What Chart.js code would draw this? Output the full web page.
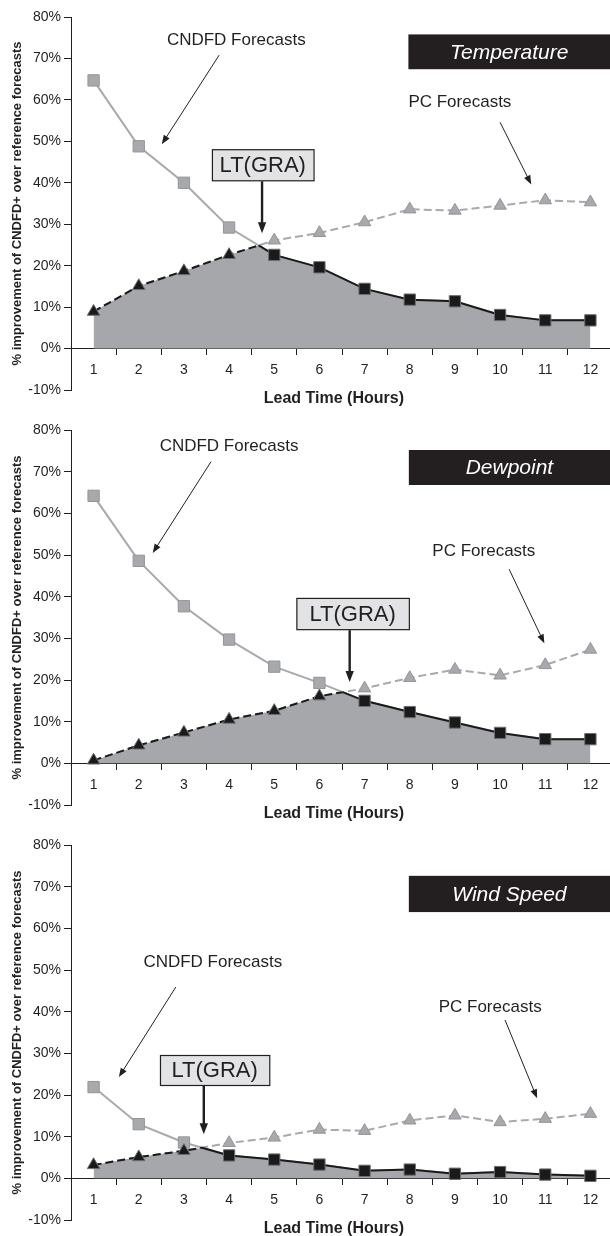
<!DOCTYPE html>
<html>
<head>
<meta charset="utf-8">
<script src="https://cdn.jsdelivr.net/npm/chart.js@4.4.1/dist/chart.umd.min.js"></script>
<style>
html,body{margin:0;padding:0;background:#fff;overflow:hidden;width:610px;height:1236px}
.panel{position:absolute;left:0;width:622px;height:413px}
</style>
</head>
<body>
<div class="panel" style="top:0"><canvas id="c1"></canvas></div>
<div class="panel" style="top:413px"><canvas id="c2"></canvas></div>
<div class="panel" style="top:828px"><canvas id="c3"></canvas></div>
<script>
// lead time in hours
const leadTimes=[1,2,3,4,5,6,7,8,9,10,11,12]
const yTicks=[-10,0,10,20,30,40,50,60,70,80]

// % improvement over reference forecasts
const tempCNDFD=[64.7,48.8,40.0,29.2,22.6,19.6,14.4,11.8,11.4,8.1,6.8,6.8]
const tempPC=[8.9,15.1,18.7,22.6,26.1,27.9,30.5,33.6,33.3,34.5,35.8,35.3]

const dewCNDFD=[64.2,48.6,37.7,29.7,23.2,19.3,15.0,12.3,9.8,7.3,5.8,5.8]
const dewPC=[0.7,4.3,7.4,10.5,12.6,16.1,18.0,20.5,22.5,21.1,23.6,27.3]

const windCNDFD=[21.9,13.0,8.6,5.5,4.5,3.3,1.8,2.1,1.1,1.5,0.9,0.6]
const windPC=[3.2,5.1,6.6,8.5,9.8,11.7,11.4,13.9,15.1,13.5,14.3,15.5]

const panelTitles=["Temperature","Dewpoint","Wind Speed"]
const xTitle="Lead Time (Hours)"

const FONT="'Liberation Sans', Arial, sans-serif"
Chart.defaults.font.family=FONT
Chart.defaults.color="#231f20"

// lower of the two curves, with the crossing point added
function envelope(a,b){
let pts=[]
for(let i=0;i<leadTimes.length;i++){
pts.push({x:leadTimes[i],y:Math.min(a[i],b[i]),pc:b[i]<a[i]})
if(i<leadTimes.length-1){
let d0=a[i]-b[i], d1=a[i+1]-b[i+1]
if(d0*d1<0){
let t=d0/(d0-d1)
pts.push({x:leadTimes[i]+t,y:b[i]+t*(b[i+1]-b[i]),pc:d1>0})
}
}
}
return pts
}

function arrow(ctx,x0,y0,x1,y1,w,head){
let a=Math.atan2(y1-y0,x1-x0)
ctx.lineWidth=w
ctx.beginPath()
ctx.moveTo(x0,y0)
ctx.lineTo(x1-Math.cos(a)*head*0.7,y1-Math.sin(a)*head*0.7)
ctx.stroke()
let hw=head*0.38
ctx.beginPath()
ctx.moveTo(x1,y1)
ctx.lineTo(x1-head*Math.cos(a)+hw*Math.sin(a),y1-head*Math.sin(a)-hw*Math.cos(a))
ctx.lineTo(x1-head*Math.cos(a)-hw*Math.sin(a),y1-head*Math.sin(a)+hw*Math.cos(a))
ctx.closePath()
ctx.fill()
}

const notesPlugin={
id:"notes",
afterDatasetsDraw(chart,args,o){
const ctx=chart.ctx
const X=v=>chart.scales.x.getPixelForValue(v)
const Y=v=>chart.scales.y.getPixelForValue(v)
ctx.save()

// panel title box
let bx=X(o.box[0]),bt=Y(o.box[1]),bb=Y(o.box[2])
ctx.fillStyle="#231f20"
ctx.fillRect(bx,bt,chart.width-bx,bb-bt)
ctx.fillStyle="#fff"
ctx.font="italic 21px "+FONT
ctx.textAlign="center"
ctx.textBaseline="middle"
ctx.fillText(o.title,(bx+610)/2,(bt+bb)/2+1)

// labels + thin arrows
ctx.fillStyle="#231f20"
ctx.strokeStyle="#231f20"
ctx.font="17px "+FONT
ctx.fillText("CNDFD Forecasts",X(o.cText[0]),Y(o.cText[1]))
ctx.fillText("PC Forecasts",X(o.pText[0]),Y(o.pText[1]))
arrow(ctx,X(o.cArrow[0]),Y(o.cArrow[1]),X(o.cArrow[2]),Y(o.cArrow[3]),1,9)
arrow(ctx,X(o.pArrow[0]),Y(o.pArrow[1]),X(o.pArrow[2]),Y(o.pArrow[3]),1,9)

// LT(GRA) box and thick arrow
let lx0=X(o.lt[0]),lx1=X(o.lt[1]),ly0=Y(o.lt[2]),ly1=Y(o.lt[3])
ctx.fillStyle="#e2e3e4"
ctx.fillRect(lx0,ly0,lx1-lx0,ly1-ly0)
ctx.lineWidth=1.2
ctx.strokeStyle="#231f20"
ctx.strokeRect(lx0+0.5,ly0+0.5,lx1-lx0,ly1-ly0)
ctx.fillStyle="#231f20"
ctx.font="22px "+FONT
ctx.fillText("LT(GRA)",(lx0+lx1)/2,(ly0+ly1)/2+1)
arrow(ctx,X(o.ltArrow[0]),ly1+1,X(o.ltArrow[0]),Y(o.ltArrow[1]),2.4,11)

// x axis title, a little left of the plot centre as in the original
ctx.font="bold 16px "+FONT
ctx.fillText(xTitle,X(6.32),Y(0)+50)

ctx.restore()
}
}

function makeChart(id,cndfd,pc,notes,padBottom){

let env=envelope(cndfd,pc)
let lowColor=(a,b)=>c=>a[c.dataIndex]<b[c.dataIndex]?"#1a1a1a":"#a7a9ac"
let edgeColor=(a,b)=>c=>a[c.dataIndex]<b[c.dataIndex]?"#6d6e71":"#939598"

new Chart(document.getElementById(id),{
type:"line",
data:{
datasets:[
{
data:leadTimes.map((x,i)=>({x,y:pc[i]})),
showLine:false,
pointStyle:"triangle",
pointRadius:7.2,
pointBorderWidth:1,
pointBackgroundColor:lowColor(pc,cndfd),
pointBorderColor:edgeColor(pc,cndfd),
order:0
},
{
data:leadTimes.map((x,i)=>({x,y:cndfd[i]})),
showLine:false,
pointStyle:"rect",
pointRadius:8,
pointBorderWidth:1,
pointBackgroundColor:lowColor(cndfd,pc),
pointBorderColor:edgeColor(cndfd,pc),
order:1
},
{
data:env,
borderColor:"#1a1a1a",
borderWidth:2,
pointRadius:0,
fill:false,
borderDash:[],
segment:{borderDash:c=>env[c.p0DataIndex].pc?[8,4]:[]},
order:2
},
{
data:leadTimes.map((x,i)=>({x,y:pc[i]})),
borderColor:"#a7a9ac",
borderWidth:2,
borderDash:[8,4],
pointRadius:0,
order:3
},
{
data:leadTimes.map((x,i)=>({x,y:cndfd[i]})),
borderColor:"#a7a9ac",
borderWidth:2,
pointRadius:0,
order:4
},
{
data:env,
borderWidth:0,
pointRadius:0,
fill:"origin",
backgroundColor:"#a5a7aa",
order:5
}
]
},
options:{
responsive:true,
maintainAspectRatio:false,
animation:false,
events:[],
layout:{padding:{top:17,bottom:padBottom,left:0,right:0}},
plugins:{legend:{display:false},tooltip:{enabled:false},notes:notes},
scales:{
x:{
type:"linear",
position:{y:0},
min:0.5,
max:12.5,
border:{color:"#231f20",width:1},
grid:{drawOnChartArea:false,tickLength:6,tickColor:c=>Number.isInteger(c.tick.value)?"rgba(0,0,0,0)":"#231f20"},
ticks:{stepSize:0.5,autoSkip:false,maxRotation:0,padding:7,font:{size:14},color:"#231f20",
callback:v=>Number.isInteger(v)&&leadTimes.includes(v)?String(v):""}
},
y:{
min:yTicks[0],
max:yTicks[yTicks.length-1],
border:{color:"#231f20",width:1},
grid:{drawOnChartArea:false,tickLength:7,color:"#231f20"},
ticks:{stepSize:10,padding:3,font:{size:14},color:"#231f20",callback:v=>v+"%"},
afterFit:s=>{s.width=71},
title:{display:true,text:"% improvement of CNDFD+ over reference forecasts",font:{size:13,weight:"bold"},color:"#231f20",padding:{top:10,bottom:0}}
}
}
},
plugins:[notesPlugin]
})

}

makeChart("c1",tempCNDFD,tempPC,{
title:panelTitles[0],
box:[7.97,75.8,67.4],
cText:[4.16,74.4],cArrow:[3.78,70.8,2.51,49.3],
pText:[9.11,59.4],pArrow:[10.0,54.6,10.69,39.6],
lt:[3.62,5.87,48.1,40.6],ltArrow:[4.73,27.8]
},23)

makeChart("c2",dewCNDFD,dewPC,{
title:panelTitles[1],
box:[7.98,75.2,66.8],
cText:[4.0,76.0],cArrow:[3.6,72.4,2.31,50.5],
pText:[9.64,51.0],pArrow:[10.2,46.6,10.98,28.8],
lt:[5.49,7.98,39.7,32.2],ltArrow:[6.67,19.5]
},21)

makeChart("c3",windCNDFD,windPC,{
title:panelTitles[2],
box:[7.98,72.6,63.9],
cText:[3.64,51.9],cArrow:[2.82,45.9,1.56,24.3],
pText:[9.78,41.1],pArrow:[10.11,38.0,10.82,19.2],
lt:[2.47,4.89,29.6,22.4],ltArrow:[3.44,10.6]
},21)
</script>
</body>
</html>
